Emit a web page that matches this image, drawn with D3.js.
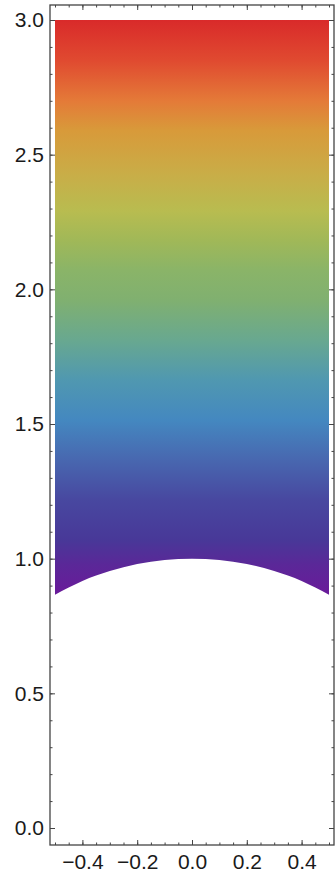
<!DOCTYPE html>
<html>
<head>
<meta charset="utf-8">
<script src="https://cdn.jsdelivr.net/npm/d3@7"></script>
<style>
  body { margin: 0; background: #fff; }
  .axis line { stroke: #444; }
  .axis path { display: none; }
</style>
</head>
<body>
<div id="chart"></div>
<script>
// Data
const xTicks = [-0.4, -0.2, 0.0, 0.2, 0.4];
const yTicks = [0.0, 0.5, 1.0, 1.5, 2.0, 2.5, 3.0];
// lower edge of the shaded region
const edgeX = [-0.5, -0.4, -0.3, -0.2, -0.1, 0.0, 0.1, 0.2, 0.3, 0.4, 0.5];
const edgeY = [0.866, 0.917, 0.954, 0.980, 0.995, 1.0, 0.995, 0.980, 0.954, 0.917, 0.866];
const topY = 3.0;
// colour ramp along y
const stopValues = [0.866, 0.98, 1.07, 1.22, 1.37, 1.515, 1.665, 1.81, 1.96, 2.07, 2.18, 2.29, 2.42, 2.59, 2.70, 2.85, 3.0];
const stopColors = ["#6a1a9a", "#5a2898", "#483898", "#4848a0", "#4868b0", "#4488c0", "#5098b0", "#68a890",
                    "#80b070", "#8ab468", "#a0b858", "#b8bc50", "#c8ae48", "#d89a3a", "#e47a38", "#e04a30", "#d92a2a"];

const W = 336, H = 873;
const frame = { left: 50, right: 334, top: 5, bottom: 845 };

const svg = d3.select("#chart")
    .append("svg")
    .attr("width", W)
    .attr("height", H);

const x = d3.scaleLinear().domain([-0.5, 0.5]).range([55, 329]);
const y = d3.scaleLinear().domain([0, 3]).range([828, 20]);

// Gradient
const grad = svg.append("defs").append("linearGradient")
    .attr("id", "ramp")
    .attr("gradientUnits", "userSpaceOnUse")
    .attr("x1", 0).attr("x2", 0)
    .attr("y1", y(stopValues[0]))
    .attr("y2", y(stopValues[stopValues.length - 1]));

const v0 = stopValues[0], v1 = stopValues[stopValues.length - 1];
grad.selectAll("stop")
    .data(stopValues)
    .enter()
    .append("stop")
    .attr("offset", d => (d - v0) / (v1 - v0))
    .attr("stop-color", (d, i) => stopColors[i]);

// Region
const edge = edgeX.map((d, i) => [d, edgeY[i]]);
const area = d3.area()
    .x(d => x(d[0]))
    .y0(d => y(d[1]))
    .y1(() => y(topY))
    .curve(d3.curveNatural);

svg.append("path")
    .datum(edge)
    .attr("d", area)
    .attr("fill", "url(#ramp)");

// Axes (ticks point inward)
const fmt = d3.format(".1f");
const xMinor = d3.range(-0.5, 0.5001, 0.05);
const yMinor = d3.range(0, 3.0001, 0.1);

function addAxis(axisFn, scale, pos, major, minor, labels) {
    svg.append("g")
        .attr("class", "axis")
        .attr("transform", pos)
        .call(axisFn(scale).tickValues(minor).tickSizeInner(-2.5).tickSizeOuter(0).tickFormat(""));
    const g = svg.append("g")
        .attr("class", "axis")
        .attr("transform", pos)
        .call(axisFn(scale).tickValues(major).tickSizeInner(-5).tickSizeOuter(0)
            .tickPadding(axisFn === d3.axisBottom ? 9 : 6)
            .tickFormat(labels ? fmt : ""));
    g.attr("font-family", "'Liberation Sans', Arial, sans-serif")
        .attr("font-size", 21);
    g.selectAll("text").attr("fill", "#1a1a1a");
}

addAxis(d3.axisBottom, x, `translate(0,${frame.bottom})`, xTicks, xMinor, true);
addAxis(d3.axisTop, x, `translate(0,${frame.top})`, xTicks, xMinor, false);
addAxis(d3.axisLeft, y, `translate(${frame.left},0)`, yTicks, yMinor, true);
addAxis(d3.axisRight, y, `translate(${frame.right},0)`, yTicks, yMinor, false);

// Frame
svg.append("rect")
    .attr("x", frame.left)
    .attr("y", frame.top)
    .attr("width", frame.right - frame.left)
    .attr("height", frame.bottom - frame.top)
    .attr("fill", "none")
    .attr("stroke", "#444")
    .attr("stroke-width", 1.3);
</script>
</body>
</html>
